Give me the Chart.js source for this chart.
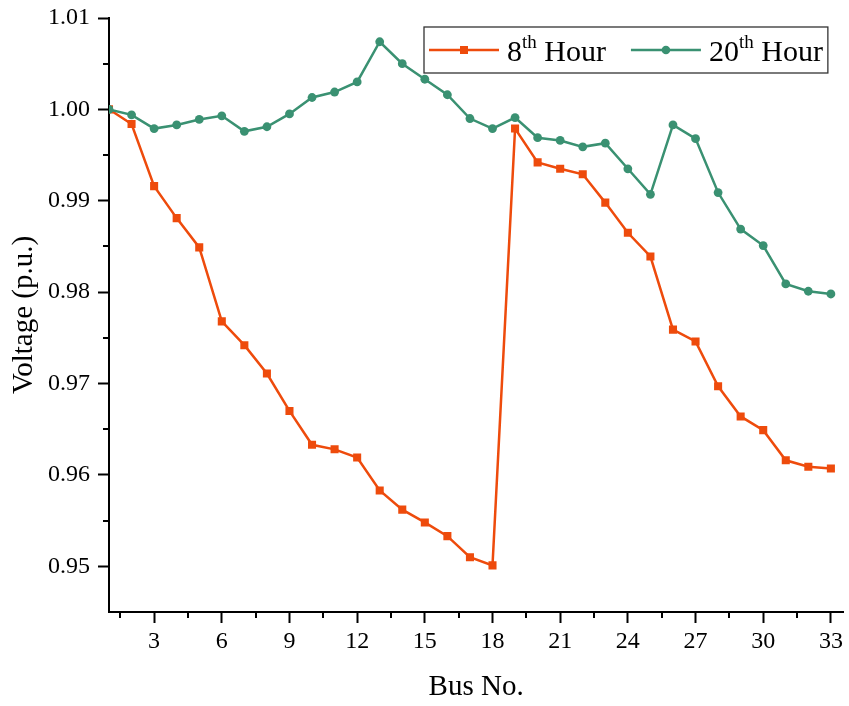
<!DOCTYPE html>
<html>
<head>
<meta charset="utf-8">
<script src="https://cdn.jsdelivr.net/npm/chart.js@4.4.0/dist/chart.umd.min.js"></script>
<style>
html,body{margin:0;padding:0;background:#fff;}
</style>
</head>
<body>
<canvas id="chart" width="849" height="706"></canvas>
<script>
// bus numbers of the 33 bus feeder
const busNo = [1,2,3,4,5,6,7,8,9,10,11,12,13,14,15,16,17,18,19,20,21,22,23,24,25,26,27,28,29,30,31,32,33];

// voltages (p.u.)
const hour8 = [1.0000,0.9984,0.9916,0.9881,0.9849,0.9768,0.9742,0.9711,0.9670,0.9633,0.9628,0.9619,0.9583,0.9562,0.9548,0.9533,0.9510,0.9501,
               0.9979,0.9942,0.9935,0.9929,0.9898,0.9865,0.9839,0.9759,0.9746,0.9697,0.9664,0.9649,0.9616,0.9609,0.9607];
const hour20 = [1.0000,0.9994,0.9979,0.9983,0.9989,0.9993,0.9976,0.9981,0.9995,1.0013,1.0019,1.0030,1.0074,1.0050,1.0033,1.0016,0.9990,0.9979,
                0.9991,0.9969,0.9966,0.9959,0.9963,0.9935,0.9907,0.9983,0.9968,0.9909,0.9869,0.9851,0.9809,0.9801,0.9798];

const seriesLabels = ['8th Hour', '20th Hour'];

// axis ticks
const xTicks = [3,6,9,12,15,18,21,24,27,30,33];
const xMinorTicks = [1.5,4.5,7.5,10.5,13.5,16.5,19.5,22.5,25.5,28.5,31.5];
const yTicks = [0.95,0.96,0.97,0.98,0.99,1.00,1.01];
const yMinorTicks = [0.955,0.965,0.975,0.985,0.995,1.005];

const orange = '#ee4b0c';
const green = '#3a9172';
const serif = '"Liberation Serif", "Times New Roman", serif';

function toPoints(xs, ys){
    return xs.map((x, i) => ({x: x, y: ys[i]}));
}

// short outward ticks between the labelled ones
const minorTicks = {
    id: 'minorTicks',
    afterDraw(chart){
        const ctx = chart.ctx;
        const xs = chart.scales.x, ys = chart.scales.y;
        const area = chart.chartArea;
        ctx.save();
        ctx.strokeStyle = '#000';
        ctx.lineWidth = 2;
        ctx.beginPath();
        xMinorTicks.forEach(v => {
            const px = Math.round(xs.getPixelForValue(v));
            ctx.moveTo(px, area.bottom);
            ctx.lineTo(px, area.bottom + 6);
        });
        yMinorTicks.forEach(v => {
            const py = Math.round(ys.getPixelForValue(v));
            ctx.moveTo(area.left, py);
            ctx.lineTo(area.left - 6, py);
        });
        ctx.stroke();
        ctx.restore();
    }
};

// boxed legend with superscript "th"
const boxLegend = {
    id: 'boxLegend',
    afterDatasetsDraw(chart){
        const ctx = chart.ctx;
        const bigFont = '30px ' + serif;
        const supFont = '19px ' + serif;
        const boxX = 424, boxY = 27, boxH = 46;
        const midY = boxY + boxH / 2;
        ctx.save();
        let x = boxX + 5;
        const items = chart.data.datasets.map(ds => ds);
        items.forEach((ds, i) => {
            // line sample with marker
            ctx.strokeStyle = ds.borderColor;
            ctx.lineWidth = 2.5;
            ctx.beginPath();
            ctx.moveTo(x, midY);
            ctx.lineTo(x + 70, midY);
            ctx.stroke();
            ctx.fillStyle = ds.borderColor;
            if (ds.pointStyle === 'rect') {
                ctx.fillRect(x + 35 - 4, midY - 4, 8, 8);
            } else {
                ctx.beginPath();
                ctx.arc(x + 35, midY, 4.3, 0, Math.PI * 2);
                ctx.fill();
            }
            x += 78;
            const m = ds.label.match(/^(\d+)(th)(.*)$/);
            ctx.fillStyle = '#000';
            ctx.textBaseline = 'alphabetic';
            ctx.font = bigFont;
            ctx.fillText(m[1], x, midY + 11);
            x += ctx.measureText(m[1]).width;
            ctx.font = supFont;
            ctx.fillText(m[2], x, midY - 2);
            x += ctx.measureText(m[2]).width;
            ctx.font = bigFont;
            ctx.fillText(m[3], x, midY + 11);
            x += ctx.measureText(m[3]).width;
            if (i < items.length - 1) x += 25;
        });
        ctx.strokeStyle = '#333';
        ctx.lineWidth = 1.3;
        ctx.strokeRect(boxX, boxY, x + 5 - boxX, boxH);
        ctx.restore();
    }
};

const voltChart = new Chart(document.getElementById('chart').getContext('2d'), {
    type: 'line',
    data: {
        datasets: [{
            label: seriesLabels[0],
            data: toPoints(busNo, hour8),
            borderColor: orange,
            backgroundColor: orange,
            borderWidth: 2.5,
            pointStyle: 'rect',
            pointRadius: 5.7,
            pointBorderWidth: 0,
            tension: 0,
            order: 1
        }, {
            label: seriesLabels[1],
            data: toPoints(busNo, hour20),
            borderColor: green,
            backgroundColor: green,
            borderWidth: 2.5,
            pointStyle: 'circle',
            pointRadius: 4.4,
            pointBorderWidth: 0,
            tension: 0,
            order: 0
        }]
    },
    options: {
        responsive: false,
        animation: false,
        devicePixelRatio: 1,
        layout: {padding: {top: 0, right: 4, left: 0, bottom: 0}},
        plugins: {
            legend: {display: false},
            tooltip: {enabled: false}
        },
        scales: {
            x: {
                type: 'linear',
                min: 1,
                max: 33.55,
                afterBuildTicks: scale => { scale.ticks = xTicks.map(v => ({value: v})); },
                afterFit: scale => { scale.height = 94; },
                ticks: {
                    color: '#000',
                    font: {family: serif, size: 24},
                    padding: 4,
                    maxRotation: 0,
                    callback: v => String(v)
                },
                grid: {
                    drawOnChartArea: false,
                    drawTicks: true,
                    tickLength: 11,
                    tickWidth: 2,
                    tickColor: '#000'
                },
                border: {display: true, color: '#000', width: 2},
                title: {
                    display: true,
                    text: 'Bus No.',
                    color: '#000',
                    font: {family: serif, size: 29},
                    padding: {top: 0, bottom: 1}
                }
            },
            y: {
                min: 0.945,
                max: 1.01,
                afterBuildTicks: scale => { scale.ticks = yTicks.map(v => ({value: v})); },
                afterFit: scale => { scale.width = 109; scale.paddingTop = 18; scale.paddingBottom = 0; },
                ticks: {
                    color: '#000',
                    font: {family: serif, size: 24},
                    padding: 8,
                    callback: v => Number(v).toFixed(2)
                },
                grid: {
                    drawOnChartArea: false,
                    drawTicks: true,
                    tickLength: 11,
                    tickWidth: 2,
                    tickColor: '#000'
                },
                border: {display: true, color: '#000', width: 2},
                title: {
                    display: true,
                    text: 'Voltage (p.u.)',
                    color: '#000',
                    font: {family: serif, size: 29},
                    padding: {top: 7, bottom: 0}
                }
            }
        }
    },
    plugins: [minorTicks, boxLegend]
});
</script>
</body>
</html>
